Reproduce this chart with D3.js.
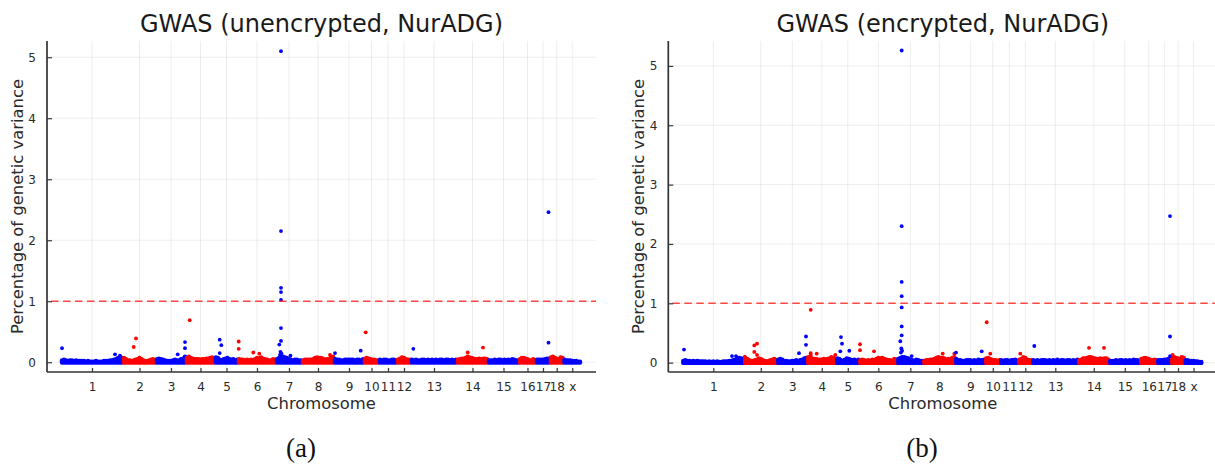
<!DOCTYPE html>
<html>
<head>
<meta charset="utf-8">
<script src="https://cdn.jsdelivr.net/npm/d3@7"></script>
<style>
  body { margin: 0; background: #fff; }
  text { font-family: "DejaVu Sans", sans-serif; }
</style>
</head>
<body>
<script>
const chromosomes = ["1", "2", "3", "4", "5", "6", "7", "8", "9", "10", "11", "12", "13", "14", "15", "16", "17", "18", "x"];
// marker counts per chromosome (x position units)
const chromLength = [620, 330, 300, 290, 230, 380, 260, 320, 300, 150, 180, 140, 460, 310, 310, 170, 140, 135, 175];

// dense background SNPs, binned: each digit = max % of variance in the bin, in hundredths
const baselineA = [
  "3432332322221211121112223345767", "75332345753223453", "565432223433569", "797655545566785",
  "874356754534", "5443434357686543354", "5799875434433", "3444457877645589", "544334444434435",
  "67654433", "434433443", "4687544", "43433443434343443443434", "4566798765565665",
  "3334344343435433", "577653353", "4444566", "8976587", "433322211"
];
const baselineB = [
  "3433232322221212121122233457876", "86433457643234564", "565332233434578", "987665556567986",
  "764357654535", "4543435468786544365", "6899875435433", "3445568988756689", "644334443435445",
  "78654434", "434434453", "5698544", "43434443434353443443435", "4577899876676775",
  "3334344343435443", "678764454", "4445567", "8987698", "443332211"
];

// individual SNPs standing out: [chromosome number, position in chromosome, % of genetic variance]
const peaksA = [
  [1, 10, 0.23], [1, 540, 0.13], [1, 590, 0.11],
  [2, 130, 0.39], [2, 107, 0.25],
  [3, 217, 0.13], [3, 290, 0.33], [3, 290, 0.23],
  [4, 37, 0.69],
  [5, 47, 0.37], [5, 63, 0.28], [5, 47, 0.15],
  [6, 7, 0.34], [6, 7, 0.22], [6, 153, 0.16], [6, 213, 0.14],
  [7, 50, 5.10], [7, 50, 2.15], [7, 50, 1.22], [7, 50, 1.15], [7, 50, 1.02], [7, 50, 0.56], [7, 50, 0.35],
  [7, 33, 0.29], [7, 45, 0.17], [7, 55, 0.14], [7, 40, 0.12], [7, 145, 0.11],
  [8, 280, 0.12],
  [9, 10, 0.15], [9, 267, 0.19],
  [10, 17, 0.49],
  [13, 23, 0.22],
  [14, 107, 0.16], [14, 260, 0.24],
  [17, 125, 2.46], [17, 125, 0.32]
];
const peaksB = [
  [1, 17, 0.22], [1, 497, 0.11], [1, 537, 0.11],
  [2, 5, 0.10], [2, 127, 0.32], [2, 127, 0.13], [2, 100, 0.29], [2, 100, 0.18],
  [3, 217, 0.16], [3, 287, 0.44], [3, 287, 0.30],
  [4, 34, 0.89], [4, 34, 0.16], [4, 34, 0.12], [4, 94, 0.15], [4, 280, 0.13],
  [5, 47, 0.43], [5, 57, 0.32], [5, 40, 0.19], [5, 130, 0.20],
  [6, 7, 0.31], [6, 7, 0.21], [6, 147, 0.19],
  [7, 44, 5.26], [7, 44, 2.30], [7, 44, 1.36], [7, 44, 1.12], [7, 44, 0.93], [7, 44, 0.61], [7, 44, 0.46],
  [7, 30, 0.36], [7, 40, 0.24], [7, 48, 0.20], [7, 36, 0.17], [7, 144, 0.11],
  [8, 194, 0.15], [8, 310, 0.15],
  [9, 7, 0.17], [9, 264, 0.19],
  [10, 14, 0.68], [10, 50, 0.15],
  [12, 20, 0.15],
  [13, 20, 0.28],
  [14, 107, 0.25], [14, 257, 0.25],
  [17, 127, 2.47], [17, 127, 0.44], [17, 127, 0.11],
  [18, 14, 0.13], [18, 104, 0.09]
];

const threshold = 1;
const yTicks = [0, 1, 2, 3, 4, 5];

const w = 1215;
const h = 466;
const plotTop = 41;
const plotBottom = 372;
const plotW = 549;
const colors = ["#0000ff", "#ff0000"];

const starts = [];
let acc = 0;
chromLength.forEach(l => { starts.push(acc); acc += l; });
const total = acc;
const pad = 140;

const svg = d3.select("body")
  .append("svg")
  .attr("width", w)
  .attr("height", h)
  .style("display", "block");

svg.append("rect").attr("width", w).attr("height", h).attr("fill", "#fff");

function drawPanel(p) {
  const g = svg.append("g").attr("transform", `translate(${p.left},0)`);

  const x = d3.scaleLinear().domain([-pad, total + 150]).range([0, plotW]);
  const y = d3.scaleLinear().domain(p.yDomain).range([plotBottom, plotTop]);
  const mids = chromosomes.map((c, i) => starts[i] + chromLength[i] / 2);

  // grid
  g.append("g").selectAll("line").data(mids).enter().append("line")
    .attr("x1", d => x(d)).attr("x2", d => x(d))
    .attr("y1", plotTop).attr("y2", plotBottom)
    .attr("stroke", "#000").attr("stroke-opacity", 0.07).attr("stroke-width", 1);
  g.append("g").selectAll("line").data(yTicks).enter().append("line")
    .attr("x1", 0).attr("x2", plotW)
    .attr("y1", d => y(d)).attr("y2", d => y(d))
    .attr("stroke", "#000").attr("stroke-opacity", 0.07).attr("stroke-width", 1);

  // binned background SNPs
  const bins = [];
  p.baseline.forEach((s, ci) => {
    const n = s.length;
    for (let i = 0; i < n; i++) {
      bins.push({ chr: ci, pos: starts[ci] + (i + 0.5) * chromLength[ci] / n, val: +s[i] / 100 });
    }
  });
  g.append("g").selectAll("line").data(bins).enter().append("line")
    .attr("x1", d => x(d.pos)).attr("x2", d => x(d.pos))
    .attr("y1", y(0) + 0.3).attr("y2", d => y(d.val))
    .attr("stroke", d => colors[d.chr % 2])
    .attr("stroke-width", 4.4)
    .attr("stroke-linecap", "round");

  // standout SNPs
  g.append("g").selectAll("circle").data(p.peaks).enter().append("circle")
    .attr("cx", d => x(starts[d[0] - 1] + d[1]))
    .attr("cy", d => y(d[2]))
    .attr("r", 1.9)
    .attr("fill", d => colors[(d[0] - 1) % 2]);

  // threshold line
  g.append("line")
    .attr("x1", 0).attr("x2", plotW)
    .attr("y1", y(threshold)).attr("y2", y(threshold))
    .attr("stroke", "#ff2a2a").attr("stroke-opacity", 0.85)
    .attr("stroke-width", 1.4)
    .attr("stroke-dasharray", "7.5,4.5")
    .attr("stroke-dashoffset", -4);

  // axes
  const xAxis = d3.axisBottom(x).tickValues(mids)
    .tickFormat((d, i) => chromosomes[i]).tickSizeInner(-4).tickSizeOuter(0).tickPadding(10);
  const yAxis = d3.axisLeft(y).tickValues(yTicks)
    .tickFormat(d3.format("d")).tickSizeInner(-5).tickSizeOuter(0).tickPadding(11);

  const gx = g.append("g").attr("transform", `translate(0,${plotBottom})`).call(xAxis);
  const gy = g.append("g").call(yAxis);
  [gx, gy].forEach(a => {
    a.select(".domain").remove();
    a.selectAll("line").attr("stroke", "#3a3a3a").attr("stroke-width", 1.2);
    a.selectAll("text").attr("fill", "#2a2a2a").style("font-size", "12px")
      .style("font-family", "'DejaVu Sans', sans-serif");
  });

  g.append("line").attr("x1", 0).attr("x2", 0).attr("y1", plotTop).attr("y2", plotBottom)
    .attr("stroke", "#333").attr("stroke-width", 1.7);
  g.append("line").attr("x1", 0).attr("x2", plotW).attr("y1", plotBottom).attr("y2", plotBottom)
    .attr("stroke", "#333").attr("stroke-width", 1.7);

  // titles
  g.append("text")
    .attr("x", plotW / 2).attr("y", 31.5)
    .attr("text-anchor", "middle")
    .attr("fill", "#1a1a1a")
    .style("font-size", "24px")
    .text(p.title);

  g.append("text")
    .attr("x", plotW / 2).attr("y", 409)
    .attr("text-anchor", "middle")
    .attr("fill", "#2a2a2a")
    .style("font-size", "16.4px")
    .text("Chromosome");

  g.append("text")
    .attr("text-anchor", "middle")
    .attr("transform", `translate(-24,${(plotTop + plotBottom) / 2})rotate(-90)`)
    .attr("fill", "#2a2a2a")
    .style("font-size", "16.4px")
    .text("Percentage of genetic variance");

  svg.append("text")
    .attr("x", p.labelX).attr("y", 457)
    .attr("text-anchor", "middle")
    .attr("fill", "#111")
    .style("font-family", "'Liberation Serif', serif")
    .style("font-size", "27px")
    .text(p.label);
}

drawPanel({ left: 47, yDomain: [-0.16, 5.266], title: "GWAS (unencrypted, NurADG)", label: "(a)", labelX: 301, baseline: baselineA, peaks: peaksA });
drawPanel({ left: 668.3, yDomain: [-0.158, 5.42], title: "GWAS (encrypted, NurADG)", label: "(b)", labelX: 922, baseline: baselineB, peaks: peaksB });
</script>
</body>
</html>
